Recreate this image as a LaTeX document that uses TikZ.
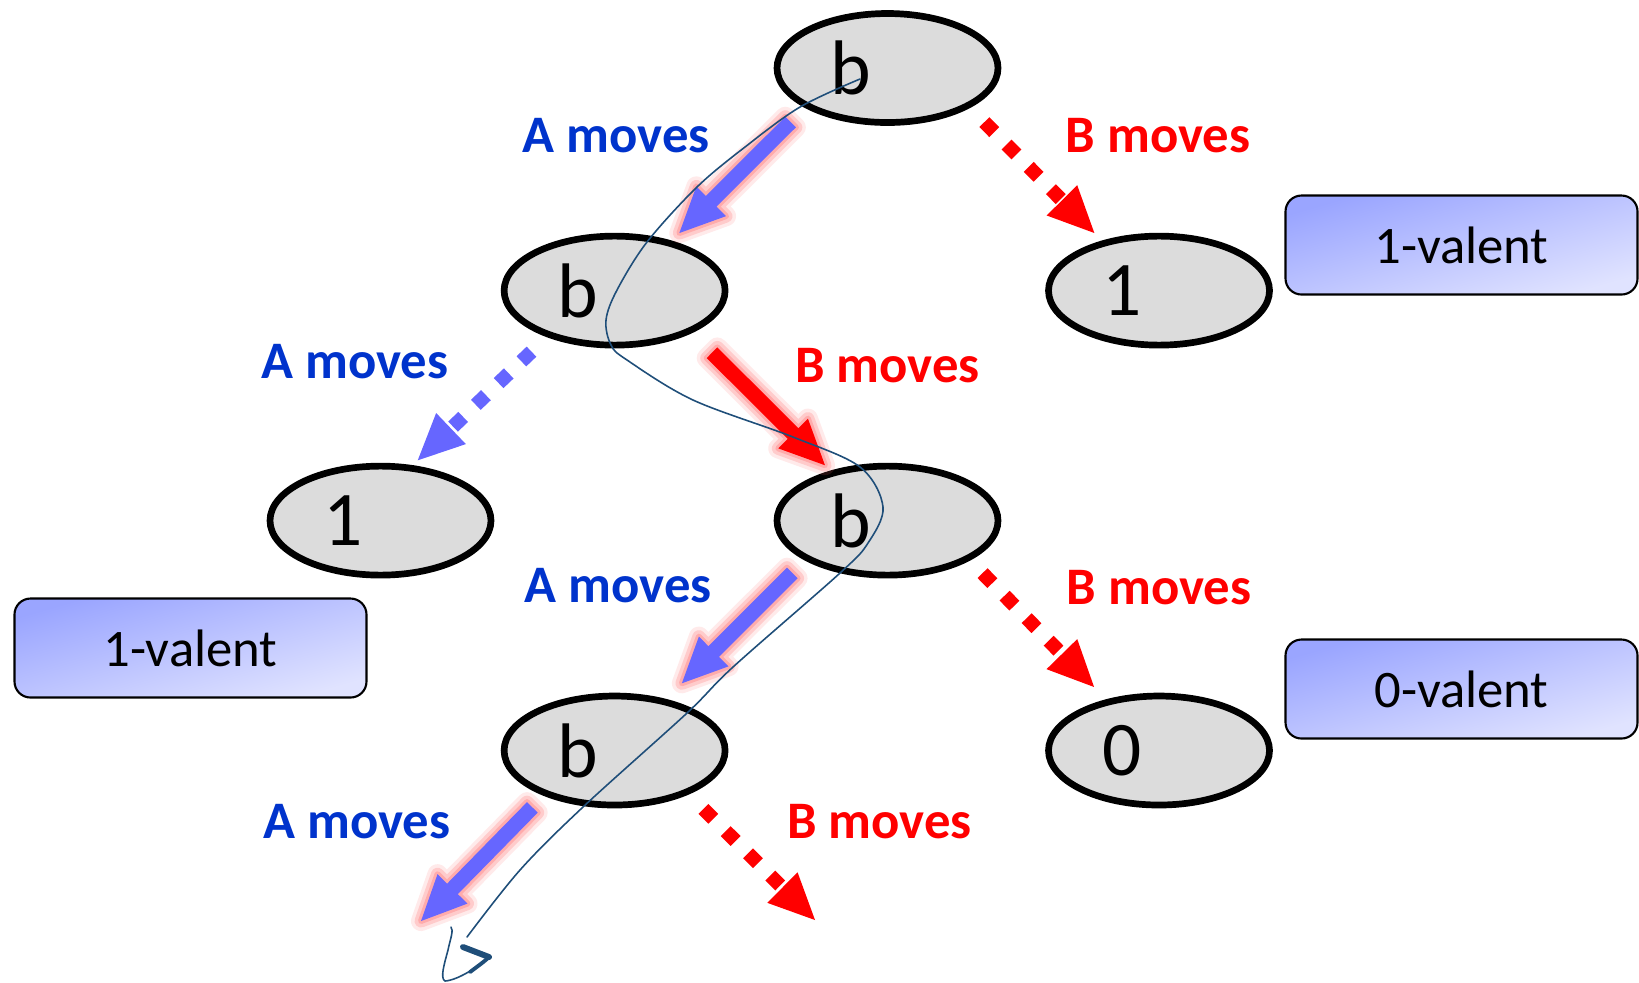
\documentclass[tikz,border=0pt]{standalone}
\usepackage{fontspec}
\setmainfont{Carlito}
\usetikzlibrary{arrows.meta,calc,shapes.geometric}

\definecolor{ellfill}{HTML}{DCDCDC}
\definecolor{movea}{HTML}{6666FF}
\definecolor{labela}{HTML}{0033CC}
\definecolor{moveb}{HTML}{FF0000}
\definecolor{glowred}{HTML}{FF7070}
\definecolor{boxdark}{HTML}{9AA5FF}
\definecolor{boxlight}{HTML}{E0E3FF}
\definecolor{ink}{HTML}{1F4E79}

\tikzset{
  state/.style={ellipse, draw=black, line width=0.67mm, fill=ellfill,
    minimum width=22.1mm, minimum height=10.9mm, inner sep=0pt, outer sep=0pt},
  statetext/.style={font=\fontsize{22pt}{26pt}\selectfont, xshift=-3.7mm, inner sep=0pt},
  alabel/.style={font=\fontsize{15pt}{18pt}\selectfont\bfseries, text=labela, inner sep=0pt},
  blabel/.style={font=\fontsize{15pt}{18pt}\selectfont\bfseries, text=moveb, inner sep=0pt},
  valent/.style={rounded corners=1.6mm, draw=black, line width=0.6pt,
    top color=boxdark, bottom color=boxlight, shading angle=16,
    minimum width=35.2mm, minimum height=9.9mm, inner sep=0pt,
    font=\fontsize{15pt}{18pt}\selectfont},
  % thick block arrow built as an outline between two points
  fatarrow/.style 2 args={to path={
    let \p1=($(\tikztostart)!#1!(\tikztotarget)$),
        \p2=($(\tikztotarget)!#2!(\tikztostart)$),
        \p3=($(\p2)!4.5mm!(\p1)$)
    in ($(\p1)!0.75mm!90:(\p2)$) -- ($(\p3)!0.75mm!90:(\p2)$)
    -- ($(\p3)!2.1mm!90:(\p2)$) -- (\p2)
    -- ($(\p3)!2.1mm!-90:(\p2)$) -- ($(\p3)!0.75mm!-90:(\p2)$)
    -- ($(\p1)!0.75mm!-90:(\p2)$) -- cycle}},
  glow/.style={
    preaction={draw=glowred, draw opacity=.15, line width=2.0mm, line join=round},
    preaction={draw=glowred, draw opacity=.25, line width=1.3mm, line join=round},
    preaction={draw=glowred, draw opacity=.35, line width=0.6mm, line join=round}},
  dotarrow/.style={line width=1.4mm, dash pattern=on 1.4mm off 1.75mm,
    -{Triangle[length=4.6mm, width=4.3mm, line width=0pt]}},
  scribble/.style={draw=ink, line width=0.45pt, line cap=round, line join=round}
}

\begin{document}
\begin{tikzpicture}[x=0.1mm, y=-0.1mm]
\useasboundingbox (0,0) rectangle (1639,982);

% game tree states
\node[state, label={[statetext]center:b}] (top) at (887.5,68) {};
\node[state, label={[statetext]center:b}] (bl)  at (614.6,290.6) {};
\node[state, label={[statetext]center:1}] (r1)  at (1159,290.6) {};
\node[state, label={[statetext]center:1}] (l1)  at (380.5,520.6) {};
\node[state, label={[statetext]center:b}] (mb)  at (887.5,520.6) {};
\node[state, label={[statetext]center:0}] (r0)  at (1159,750.5) {};
\node[state, label={[statetext]center:b}] (bb)  at (614.6,750.5) {};

% valence tags
\node[valent] (tag1) at (1461.5,245) {1-valent};
\node[valent] (tag2) at (190.5,648) {1-valent};
\node[valent] (tag3) at (1461.5,689) {0-valent};

% move labels
\node[alabel] (la1) at (616.2,135.9) {A moves};
\node[blabel] (lb1) at (1158.2,135.9) {B moves};
\node[alabel] (la2) at (354.9,361.7) {A moves};
\node[blabel] (lb2) at (887.5,365.9) {B moves};
\node[alabel] (la3) at (618.3,585.4) {A moves};
\node[blabel] (lb3) at (1159.2,587.5) {B moves};
\node[alabel] (la4) at (357,821.6) {A moves};
\node[blabel] (lb4) at (879.6,821.6) {B moves};

% open ends of the last level
\coordinate (a4end) at (421,921);
\coordinate (b4end) at (815,920);

% moves
\fill[movea, glow, fatarrow={2.35mm}{1.44mm}] (top.205) to (bl.41);
\draw[dotarrow, moveb, shorten <=2.35mm, shorten >=1.44mm] (top.335) -- (r1.139);
\draw[dotarrow, movea, shorten <=2.47mm, shorten >=1.12mm] (bl.214) -- (l1.61);
\fill[moveb, glow, fatarrow={3.14mm}{1.13mm}] (bl.332) to (mb.139);
\fill[movea, glow, fatarrow={2.11mm}{2.6mm}] (mb.205) to (bb.45);
\draw[dotarrow, moveb, shorten <=2.11mm, shorten >=2.1mm] (mb.335) -- (r0.136);
\fill[movea, glow, fatarrow={1.97mm}{0mm}] (bb.212) to (a4end);
\draw[dotarrow, moveb, shorten <=2.4mm] (bb.330) -- (b4end);

% hand-drawn path through the tree
\draw[scribble] plot[smooth, tension=0.55] coordinates {
  (860,79) (800,107) (745,147) (697,187) (647,242) (617,290) (606,320)
  (611,345) (627,360) (693,400) (793,437) (860,467) (883,507) (868,543)
  (840,573) (733,667) (687,713) (583,807) (520,870) (467,937)};
\draw[scribble] (451,927) .. controls (454,930) and (450,940) .. (448,950)
  .. controls (444,965) and (440,978) .. (445,981)
  .. controls (458,980) and (478,967) .. (489,957);
\draw[scribble, line width=1.1pt] (470,972) .. controls (478,966) and (485,961) .. (489,957);
\draw[scribble, line width=1.7pt] (489,957) -- (463,947);
\end{tikzpicture}
\end{document}
